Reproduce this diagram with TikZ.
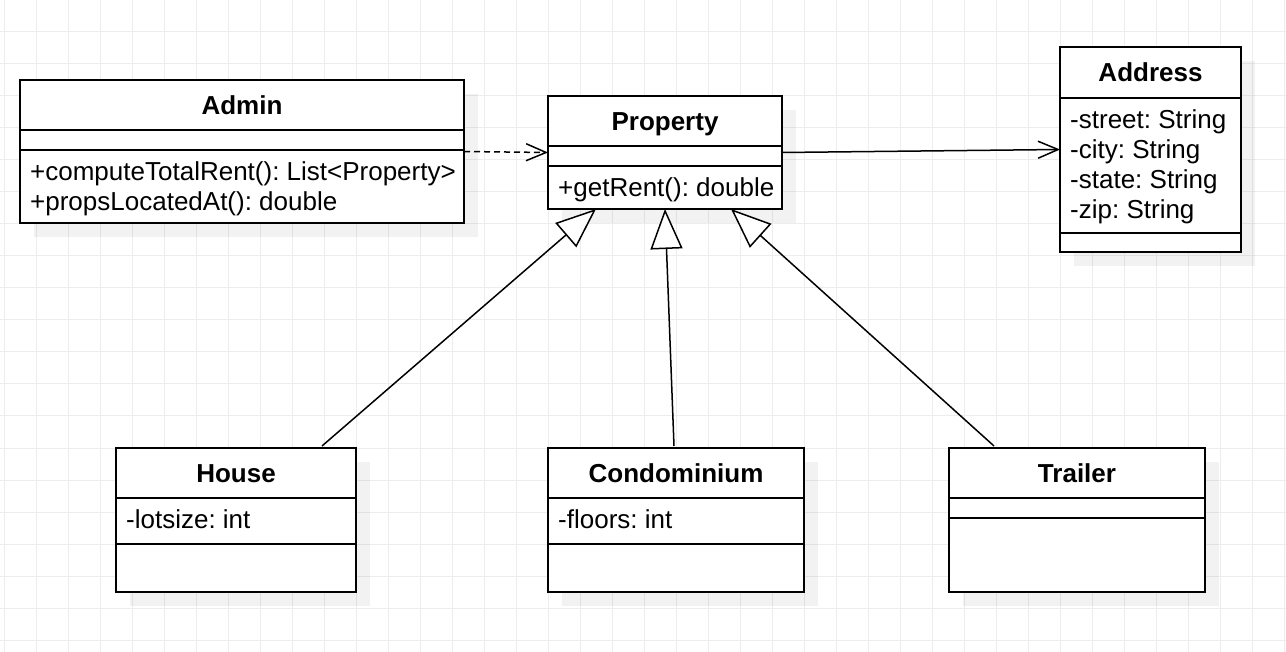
\documentclass[tikz,border=0pt]{standalone}
\usepackage{fontspec}
\setmainfont{Liberation Sans}
\usetikzlibrary{calc,arrows.meta}
\frenchspacing
\definecolor{gridgray}{HTML}{EDEDED}
\tikzstyle{gridline}=[draw=gridgray,line width=1pt]
\tikzstyle{classbox}=[draw=black,fill=white,line width=2pt,inner sep=0pt,outer sep=0pt]
\tikzstyle{classline}=[black,line width=2pt]
\tikzstyle{classshadow}=[fill=black,opacity=0.05]
\tikzstyle{umltext}=[inner sep=0pt,align=left,anchor=north west,font=\fontsize{26}{30}\selectfont]
\tikzstyle{titletext}=[inner sep=0pt,text height=18.6pt,text depth=0pt,font=\fontsize{26}{30}\selectfont\bfseries]
\tikzstyle{generalization}=[line width=1.5pt,-{Triangle[length=40pt,width=32pt,fill=white]}]
\tikzstyle{association}=[line width=1.5pt,-{Straight Barb[length=20pt,width=17pt]}]
\tikzstyle{dependency}=[association,dash pattern=on 6pt off 4pt]
% Syntax: {name}{x,y}{width}{title height}{attribute height}{method height}{title}{attributes}{methods}
\newcommand{\umlclass}[9]{
\pgfmathsetmacro{\hA}{#4}
\pgfmathsetmacro{\hB}{#4+#5}
\pgfmathsetmacro{\hC}{#4+#5+#6}
\fill[classshadow] ($(#2)+(14,14)$) rectangle ++(#3,\hC);
\node[classbox,minimum width=#3,minimum height=\hC,anchor=north west] (#1) at (#2) {};
\draw[classline] ($(#1.north west)+(0,\hA)$) -- ++(#3,0);
\draw[classline] ($(#1.north west)+(0,\hB)$) -- ++(#3,0);
\node[titletext] (#1-t) at ($(#1.north)+(0,#4/2)$) {#7};
\node[umltext] (#1-a) at ($(#1.north west)+(10,\hA+11)$) {#8}; % first baseline about 30 below the row top
\node[umltext] (#1-m) at ($(#1.north west)+(10,\hB+11)$) {#9};
}
\begin{document}
\begin{tikzpicture}[x=1pt,y=-1pt]
	\useasboundingbox[fill=white] (0,0) rectangle (1286,652);
	\foreach \gx in {4,36,...,1284} \draw[gridline] (\gx,0) -- (\gx,652);
	\foreach \gy in {0,32,...,640} \draw[gridline] (0,\gy) -- (1286,\gy);
	\umlclass{admin}{20,80}{444}{50}{20}{73}{Admin}{}{+computeTotalRent(): List<Property>\\+propsLocatedAt(): double}
	\umlclass{prop}{548,96}{234}{50}{20}{43}{Property}{}{+getRent(): double}
	\umlclass{addr}{1060,47}{181}{51}{135}{19}{Address}{-street: String\\-city: String\\-state: String\\-zip: String}{}
	\umlclass{house}{116,448}{240}{50}{46}{48}{House}{-lotsize: int}{}
	\umlclass{condo}{548,448}{256}{50}{46}{48}{Condominium}{-floors: int}{}
	\umlclass{trailer}{949,448}{256}{50}{20}{74}{Trailer}{}{}
	\draw[dependency] (admin.east) -- (prop.west);
	\draw[association] (prop.east) -- (addr.west);
	\draw[generalization] ($(house.north east)+(-34,-2)$) -- ($(prop.south west)+(48,0)$);
	\draw[generalization] ($(condo.north)+(-2,-2)$) -- (prop.south);
	\draw[generalization] ($(trailer.north west)+(45,-2)$) -- ($(prop.south east)+(-51,0)$);
\end{tikzpicture}
\end{document}
